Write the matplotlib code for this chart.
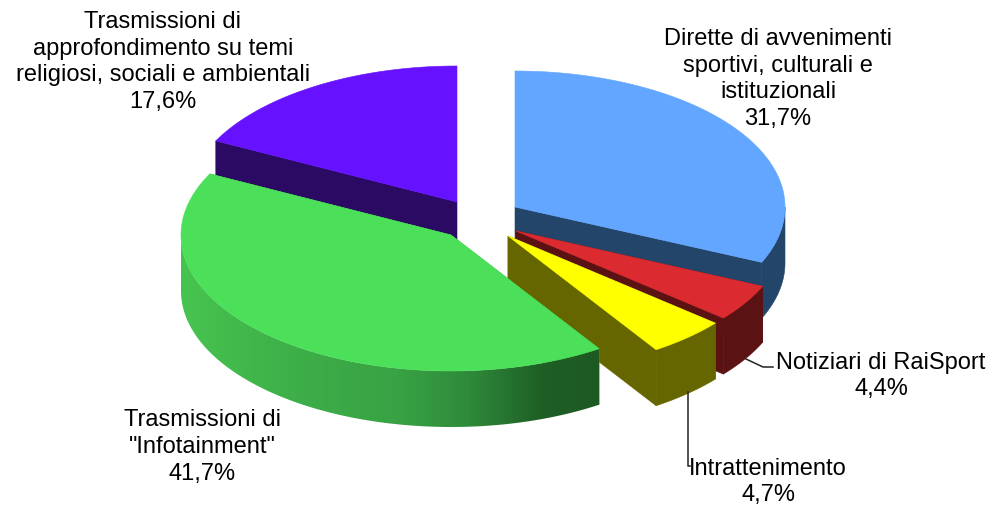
import numpy as np
import matplotlib
matplotlib.use("Agg")
import matplotlib.pyplot as plt
from matplotlib.colors import LinearSegmentedColormap
from matplotlib.patches import Polygon

plt.rcParams['font.family'] = ['Liberation Sans', 'DejaVu Sans']

# --- dati ---
categorie = [
    "Dirette di avvenimenti\nsportivi, culturali e\nistituzionali",
    "Notiziari di RaiSport",
    "Intrattenimento",
    "Trasmissioni di\n\"Infotainment\"",
    "Trasmissioni di\napprofondimento su temi\nreligiosi, sociali e ambientali",
]
valori = [31.7, 4.4, 4.7, 41.7, 17.6]
percentuali = ["31,7%", "4,4%", "4,7%", "41,7%", "17,6%"]

# --- stile ---
col_top = ["#63A6FF", "#DB2B30", "#FFFF00", "#4CE05A", "#6611FF"]
col_side = ["#24456A", "#5A1213", "#666600", "#3AA545", "#2A0A63"]
centri = [(515, 208), (516, 232), (508, 237), (451, 236), (457, 203)]
pos_label = [(778, 79), (881, 376), (768, 482), (202, 447), (163, 62)]
ordine = [0, 1, 2, 4, 3]
RX, RY, H = 270, 136, 56

green_cmap = LinearSegmentedColormap.from_list("side_green", [
    (0.0, "#47C44F"), (0.28, "#3DAE48"), (0.52, "#38A244"),
    (0.69, "#2F8A3A"), (0.86, "#1E5F26"), (1.0, "#1D5A22")])

fig = plt.figure(figsize=(9.92, 5.10), dpi=100)
ax = fig.add_axes([0, 0, 1, 1])


def arco(cx, cy, t1, t2, n=120):
    t = np.radians(np.linspace(t1, t2, n))
    return np.column_stack([cx + RX * np.sin(t), cy - RY * np.cos(t)])


def poly(pts, colore, z):
    p = Polygon(pts, closed=True, facecolor=colore, edgecolor=colore, lw=0.4, zorder=z)
    ax.add_patch(p)
    return p


fine = np.cumsum(valori) / sum(valori) * 360
inizio = np.concatenate([[0], fine[:-1]])

z = 1
for i in ordine:
    cx, cy = centri[i]
    t1, t2 = inizio[i], fine[i]
    giu = np.array([0, H])
    apice = np.array([cx, cy])

    # facce radiali (quelle verticali a ore 12 non si vedono)
    for t in (t1, t2):
        if t % 360 == 0 or abs(t - 360) < 0.01:
            continue
        p = arco(cx, cy, t, t, 1)[0]
        poly([apice, p, p + giu, apice + giu], col_side[i], z)
    z += 1

    # bordo esterno, solo la parte visibile
    a, b = max(t1, 90), min(t2, 270)
    if a < b:
        pts = arco(cx, cy, a, b)
        fascia = np.vstack([pts, (pts + giu)[::-1]])
        if i == 3:
            # sfumatura orizzontale del verde
            xmin, xmax = fascia[:, 0].min(), fascia[:, 0].max()
            ymin, ymax = fascia[:, 1].min(), fascia[:, 1].max()
            bordo = Polygon(fascia, closed=True, transform=ax.transData, facecolor="none", edgecolor="none")
            ax.add_patch(bordo)
            img = ax.imshow(np.linspace(0, 1, 512).reshape(1, -1), cmap=green_cmap, aspect="auto",
                            extent=(xmin, xmax, ymax, ymin), zorder=z, interpolation="bilinear")
            img.set_clip_path(bordo)
        else:
            poly(fascia, col_side[i], z)
    z += 1

    # faccia superiore
    poly(np.vstack([[apice], arco(cx, cy, t1, t2, 200)]), col_top[i], z)
    z += 1

ax.set_xlim(0, 992)
ax.set_ylim(510, 0)
ax.axis("off")

# etichette
for i in range(len(valori)):
    x, y = pos_label[i]
    ax.text(x, y, categorie[i] + "\n" + percentuali[i], ha="center", va="center",
            fontsize=17.0, color="black", linespacing=1.29, zorder=50)

# linee guida
ax.plot([746, 763, 773], [360, 368, 368], color="#222222", lw=1.1, zorder=40)
ax.plot([688, 688, 690], [393, 467, 467], color="#222222", lw=1.1, zorder=40)

fig.savefig("out.png", dpi=100)
